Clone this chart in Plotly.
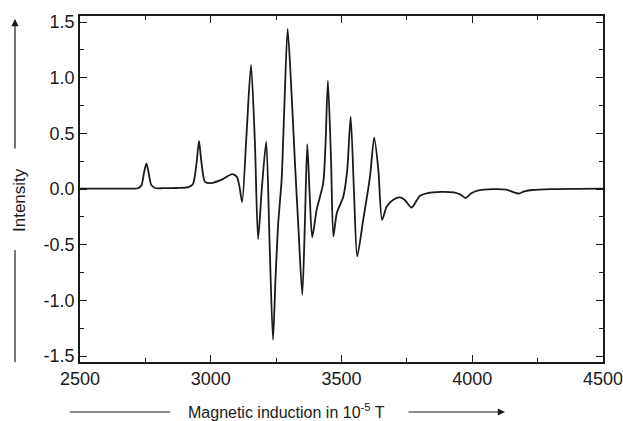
import plotly.graph_objects as go

# EPR spectrum: magnetic induction (10^-5 T) vs. intensity (arb. units)
field = [2500, 2600, 2700, 2722, 2735, 2745, 2754, 2763, 2772, 2786, 2820, 2870, 2915,
         2932, 2946, 2955, 2964, 2978, 3000, 3040, 3082, 3100, 3110, 3120,
         3137, 3154, 3169, 3181, 3195, 3212, 3225, 3238, 3248, 3258, 3271,
         3281, 3294, 3309, 3322, 3335, 3350, 3360, 3369, 3378, 3388, 3405,
         3430, 3439, 3448, 3460, 3469, 3482, 3507, 3522, 3535, 3548, 3560,
         3583, 3609, 3625, 3641, 3655, 3673, 3698, 3724, 3743, 3768, 3800,
         3830, 3880, 3930, 3955, 3975, 3995, 4020, 4080, 4130, 4155, 4177,
         4200, 4230, 4300, 4400, 4500]
intensity = [0.005, 0.005, 0.005, 0.008, 0.035, 0.15, 0.23, 0.14, 0.04, 0.01, 0.008, 0.01, 0.018,
             0.045, 0.24, 0.434, 0.25, 0.065, 0.054, 0.083, 0.135, 0.11, 0.02, -0.117,
             0.50, 1.116, 0.41, -0.449, -0.006, 0.427, -0.485, -1.353, -0.784, -0.305, 0.083,
             0.71, 1.439, 0.86, 0.236, -0.335, -0.949, -0.305, 0.404, -0.036, -0.434, -0.186,
             0.054, 0.413, 0.975, 0.263, -0.425, -0.216, -0.066, 0.173, 0.652, -0.036, -0.605,
             -0.276, 0.113, 0.463, 0.173, -0.276, -0.156, -0.096, -0.075, -0.10, -0.165, -0.06,
             -0.035, -0.025, -0.03, -0.05, -0.08, -0.04, -0.013, 0.0, -0.005, -0.025, -0.04,
             -0.02, -0.008, 0.0, 0.003, 0.005]

x_ticks = [2500, 3000, 3500, 4000, 4500]
y_ticks = [-1.5, -1.0, -0.5, 0.0, 0.5, 1.0, 1.5]

FONT = "Liberation Sans, Arial, sans-serif"
INK = "#1a1a1a"

fig = go.Figure()
fig.add_trace(go.Scatter(
    x=field, y=intensity, mode="lines",
    line=dict(color=INK, width=1.8, shape="spline", smoothing=0.7),
    hoverinfo="skip", showlegend=False,
))

axis_common = dict(
    showline=True, linecolor=INK, linewidth=1.5, mirror="allticks",
    ticks="inside", ticklen=7, tickwidth=1.2, tickcolor=INK,
    showgrid=False, zeroline=False,
    tickfont=dict(family=FONT, size=18, color=INK),
    ticklabeloverflow="allow", automargin=False,
)

fig.update_xaxes(
    range=[2500, 4500], tickvals=x_ticks, ticktext=[str(v) for v in x_ticks],
    minor=dict(ticks="inside", ticklen=4, tickwidth=1.2, tickcolor=INK, dtick=250,
               showgrid=False),
    **axis_common,
)
fig.update_yaxes(
    range=[-1.553, 1.555], tickvals=y_ticks, ticktext=[f"{v:.1f}" for v in y_ticks],
    minor=dict(ticks="inside", ticklen=4, tickwidth=1.2, tickcolor=INK, dtick=0.25,
               showgrid=False),
    **axis_common,
)

W, H = 623, 421
L, R, T, B = 80, 20, 16, 59
pw, ph = W - L - R, H - T - B


def px(xp):
    return (xp - L) / pw


def py(yp):
    return (H - B - yp) / ph


shapes = [
    # plain lead-in segments of the axis arrows
    dict(type="line", xref="paper", yref="paper", x0=px(70), x1=px(170), y0=py(412), y1=py(412),
         line=dict(color=INK, width=1.2)),
    dict(type="line", xref="paper", yref="paper", x0=px(15), x1=px(15), y0=py(250), y1=py(362),
         line=dict(color=INK, width=1.2)),
]

annotations = [
    dict(xref="paper", yref="paper", x=px(505), y=py(412), ax=-98, ay=0,
         showarrow=True, arrowhead=2, arrowsize=1.2, arrowwidth=1.2, arrowcolor=INK, text=""),
    dict(xref="paper", yref="paper", x=px(15), y=py(19), ax=0, ay=131,
         showarrow=True, arrowhead=2, arrowsize=1.2, arrowwidth=1.2, arrowcolor=INK, text=""),
    dict(xref="paper", yref="paper", x=px(286), y=py(411), showarrow=False,
         text="Magnetic induction in 10<sup>-5</sup> T",
         font=dict(family=FONT, size=16, color=INK), xanchor="center", yanchor="middle"),
    dict(xref="paper", yref="paper", x=px(20), y=py(200), showarrow=False,
         text="Intensity", textangle=-90,
         font=dict(family=FONT, size=17, color=INK), xanchor="center", yanchor="middle"),
]

fig.update_layout(
    width=W, height=H,
    margin=dict(l=L, r=R, t=T, b=B, autoexpand=False),
    paper_bgcolor="white", plot_bgcolor="white",
    shapes=shapes, annotations=annotations,
)

fig.write_html("out.html")
